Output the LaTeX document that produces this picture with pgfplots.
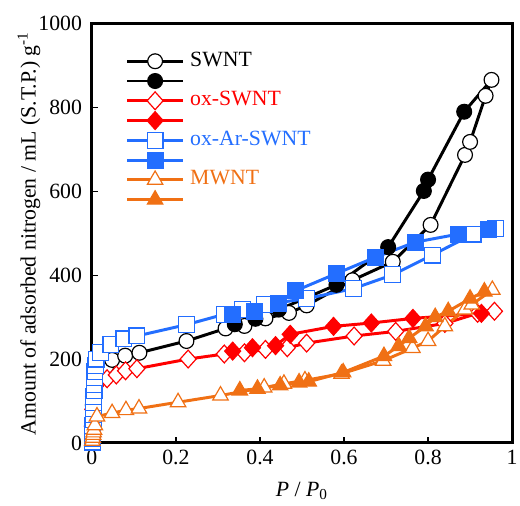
\documentclass[border=0pt]{standalone}
\usepackage{fontspec}
\setmainfont{Liberation Serif}
\usepackage{pgfplots}
\pgfplotsset{compat=1.18}
\definecolor{myblue}{RGB}{35,110,255}
\definecolor{myorange}{RGB}{240,112,20}
\definecolor{myred}{RGB}{255,0,0}
\begin{document}
\begin{tikzpicture}
\begin{axis}[
  name=ax,
  scale only axis, width=212.5pt, height=212pt,
  xmin=0, xmax=1, ymin=0, ymax=1000,
  xtick={0,0.2,0.4,0.6,0.8,1}, ytick={0,200,400,600,800,1000},
  xticklabels={0,0.2,0.4,0.6,0.8,1},
  yticklabels={0,200,400,600,800,1000},
  axis line style={line width=1.5pt},
  tick style={line width=0.6pt, black},
  major tick length=3pt,
  tick align=inside, xtick pos=bottom, ytick pos=left,
  /pgf/number format/assume math mode=true,
  font=\fontsize{11}{13}\selectfont,
  yticklabel style={xshift=-1.5pt},
  xlabel={\textit{P} / \textit{P}\textsubscript{0}},
  ylabel={Amount of adsorbed nitrogen / mL (S.T.P.) g\textsuperscript{-1}},
  every axis x label/.style={at={(axis description cs:0.5,-0.115)}, anchor=center},
  every axis y label/.style={at={(axis description cs:-0.15,0.5)}, rotate=90, anchor=center},
  clip=false,
  legend style={draw=none, fill=none, at={(axis description cs:0.08,0.935)}, anchor=north west,
    inner sep=0pt, row sep=0pt, column sep=3pt,
    nodes={inner sep=0pt, text height=7.5pt, text depth=2.5pt}},
  legend cell align=left,
  legend image code/.code={\draw[mark repeat=2,mark phase=2] plot coordinates {(0pt,0pt)(14pt,0pt)(28pt,0pt)};},
]
% SWNT adsorption
\addplot[black, line width=1.5pt, mark=*, mark size=3.75pt, mark options={fill=white, draw=black, line width=0.6pt}] coordinates {
(0.001,40)(0.002,90)(0.003,120)(0.005,145)(0.008,160)(0.015,172)(0.034,182)(0.048,198)(0.079,208)(0.113,215)(0.225,243)(0.318,273)(0.363,279)(0.413,297)(0.469,310)(0.511,328)(0.62,388)(0.716,432)(0.806,520)(0.888,687)(0.90,718)(0.937,828)(0.951,866)};
\addlegendentry{SWNT}
\addplot[forget plot, black, line width=1.5pt] coordinates {(0.951,866)(0.886,790)};
\addplot[black, line width=1.5pt, mark=*, mark size=3.75pt, mark options={fill=black, draw=black, line width=0.6pt}] coordinates {
(0.886,790)(0.80,628)(0.79,601)(0.705,467)(0.582,377)(0.445,318)(0.389,296)(0.34,283)};
\addlegendentry{}
% ox-SWNT
\addplot[myred, line width=1.5pt, mark=diamond*, mark size=4.5pt, mark options={fill=white, draw=myred, line width=0.6pt, xscale=1.2}] coordinates {
(0.001,40)(0.002,80)(0.004,110)(0.008,135)(0.015,145)(0.036,153)(0.058,162)(0.08,172)(0.107,177)(0.229,200)(0.315,212)(0.363,215)(0.413,223)(0.465,227)(0.511,238)(0.624,255)(0.723,266)(0.84,285)(0.918,309)(0.958,314)};
\addlegendentry{\textcolor{myred}{ox-SWNT}}
\addplot[forget plot, myred, line width=1.5pt] coordinates {(0.958,314)(0.927,309)};
\addplot[myred, line width=1.5pt, mark=diamond*, mark size=4.5pt, mark options={fill=myred, draw=myred, line width=0.6pt, xscale=1.2}] coordinates {
(0.927,309)(0.764,297)(0.665,286)(0.575,278)(0.472,259)(0.437,232)(0.382,227)(0.335,219)};
\addlegendentry{}
% ox-Ar-SWNT
\addplot[myblue, line width=1.5pt, mark=square*, mark size=4pt, mark options={fill=white, draw=myblue, line width=0.6pt}] coordinates {
(0.001,2)(0.001,10)(0.002,20)(0.002,30)(0.002,42)(0.003,55)(0.003,68)(0.003,82)(0.004,96)(0.004,110)(0.005,125)(0.005,140)(0.006,155)(0.007,170)(0.008,185)(0.01,200)(0.02,215)(0.045,235)(0.076,248)(0.107,255)(0.225,282)(0.316,307)(0.359,318)(0.41,330)(0.511,344)(0.622,368)(0.716,401)(0.81,448)(0.907,498)(0.96,512)};
\addlegendentry{\textcolor{myblue}{ox-Ar-SWNT}}
\addplot[forget plot, myblue, line width=1.5pt] coordinates {(0.96,512)(0.943,509)};
\addplot[myblue, line width=1.5pt, mark=square*, mark size=4pt, mark options={fill=myblue, draw=myblue, line width=0.6pt}] coordinates {
(0.943,509)(0.872,498)(0.77,479)(0.675,443)(0.582,404)(0.485,363)(0.445,333)(0.386,314)(0.335,307)};
\addlegendentry{}
% MWNT
\addplot[myorange, line width=1.5pt, mark=triangle*, mark size=4.5pt, mark options={fill=white, draw=myorange, line width=0.6pt}] coordinates {
(0.001,5)(0.002,12)(0.003,19)(0.004,25)(0.005,31)(0.007,42)(0.012,63)(0.048,71)(0.081,78)(0.112,82)(0.205,97)(0.306,113)(0.41,132)(0.457,141)(0.507,149)(0.594,165)(0.693,196)(0.763,226)(0.80,243)(0.84,278)(0.888,318)(0.904,330)(0.953,365)};
\addlegendentry{\textcolor{myorange}{MWNT}}
\addplot[forget plot, myorange, line width=1.5pt] coordinates {(0.953,365)(0.934,361)};
\addplot[myorange, line width=1.5pt, mark=triangle*, mark size=4.5pt, mark options={fill=myorange, draw=myorange, line width=0.6pt}] coordinates {
(0.934,361)(0.90,344)(0.848,314)(0.817,300)(0.794,278)(0.755,250)(0.73,231)(0.695,207)(0.598,168)(0.516,146)(0.493,144)(0.448,137)(0.394,129)(0.352,125)};
\addlegendentry{}
\end{axis}
\pgfresetboundingbox
\path (ax.south west) ++(-46.5pt,-31.5pt) coordinate (bba);
\path (ax.north east) ++(4pt,12pt) coordinate (bbb);
\useasboundingbox (bba) rectangle (bbb);
\end{tikzpicture}
\end{document}
